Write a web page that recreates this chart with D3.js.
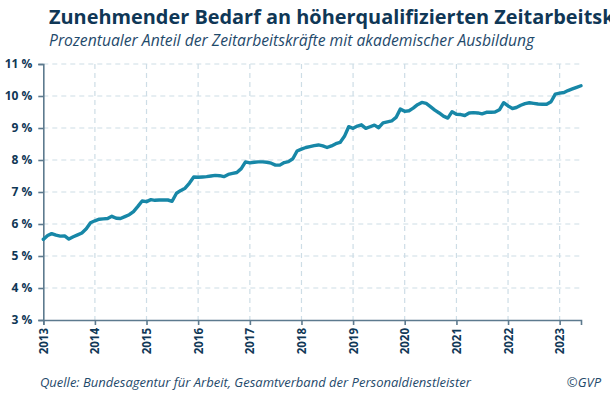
<!DOCTYPE html>
<html><head><meta charset="utf-8">
<script src="https://cdn.jsdelivr.net/npm/d3@7"></script>
<style>
html,body{margin:0;padding:0;background:#fff;overflow:hidden;}
text{font-family:"Open Sans",sans-serif;}
</style></head>
<body>
<svg id="chart" width="610" height="401"></svg>
<script>
const title = "Zunehmender Bedarf an höherqualifizierten Zeitarbeitskräften";
const subtitle = "Prozentualer Anteil der Zeitarbeitskräfte mit akademischer Ausbildung";
const source = "Quelle: Bundesagentur für Arbeit, Gesamtverband der Personaldienstleister";
const credit = "©GVP";
const startYear = 2013;
const startMonth = 0;
// Monthly share (%) from Jan 2013 to Jun 2023
const values = [
  5.52,5.64,5.70,5.65,5.62,5.63,5.53,5.60,5.66,5.72,5.85,6.04,
  6.10,6.15,6.16,6.17,6.24,6.18,6.17,6.23,6.29,6.39,6.55,6.72,
  6.70,6.76,6.74,6.75,6.75,6.75,6.71,6.96,7.05,7.12,7.28,7.47,
  7.46,7.47,7.48,7.50,7.52,7.51,7.48,7.55,7.58,7.61,7.73,7.94,
  7.91,7.93,7.94,7.94,7.93,7.90,7.84,7.84,7.92,7.95,8.04,8.28,
  8.34,8.39,8.42,8.45,8.47,8.44,8.39,8.44,8.51,8.55,8.74,9.04,
  8.99,9.06,9.10,8.99,9.04,9.09,9.01,9.16,9.19,9.22,9.33,9.59,
  9.52,9.54,9.62,9.73,9.80,9.77,9.67,9.56,9.47,9.37,9.31,9.51,
  9.43,9.42,9.39,9.47,9.48,9.47,9.44,9.49,9.49,9.50,9.57,9.79,
  9.69,9.61,9.64,9.71,9.76,9.79,9.77,9.75,9.74,9.74,9.82,10.06,
  10.09,10.11,10.17,10.22,10.27,10.32
];
const yTicks = [3,4,5,6,7,8,9,10,11];
const xTickYears = [2013,2014,2015,2016,2017,2018,2019,2020,2021,2022,2023];

const data = values.map((v,i)=>({date:new Date(startYear, startMonth+i, 1), value:v}));

const svg = d3.select("#chart");
const mLeft = 43.3, mRight = 581, mTop = 64, mBottom = 320;

const x = d3.scaleTime().domain(d3.extent(data, d=>d.date)).range([mLeft, mRight]);
const y = d3.scaleLinear().domain([3, 11]).range([mBottom, mTop]);

const navy = "#0f3756";
const gridColor = "#cddde6";
const axisColor = "#5d7a8e";

// title
svg.append("text").attr("x",49).attr("y",24).attr("font-size",19.9).attr("font-weight",700)
  .attr("fill",navy).text(title);
svg.append("text").attr("x",49).attr("y",45.5).attr("font-size",15.7).attr("font-style","italic")
  .attr("fill","#1f4a6b").text(subtitle);

// grid
const g = svg.append("g");
g.selectAll("line.hg").data(yTicks.slice(1)).join("line")
  .attr("x1",mLeft).attr("x2",mRight).attr("y1",d=>y(d)).attr("y2",d=>y(d))
  .attr("stroke",gridColor).attr("stroke-width",1.2).attr("stroke-dasharray","5,4");
g.selectAll("line.vg").data(xTickYears.slice(1)).join("line")
  .attr("x1",d=>x(new Date(d,0,1))).attr("x2",d=>x(new Date(d,0,1)))
  .attr("y1",mTop).attr("y2",mBottom)
  .attr("stroke",gridColor).attr("stroke-width",1.2).attr("stroke-dasharray","5,4");

// y axis
const yAxis = svg.append("g").attr("transform",`translate(${mLeft},0)`)
  .call(d3.axisLeft(y).tickValues(yTicks).tickSize(5).tickPadding(6).tickFormat(d=>d+" %"));
yAxis.select(".domain").attr("stroke",axisColor).attr("stroke-width",1.6);
yAxis.selectAll(".tick line").attr("stroke",axisColor).attr("stroke-width",1.6);
yAxis.selectAll(".tick text").attr("font-family","Open Sans").attr("font-size",12)
  .attr("font-weight",700).attr("fill",navy);

// x axis
const xAxis = svg.append("g").attr("transform",`translate(0,${mBottom})`)
  .call(d3.axisBottom(x).tickValues(xTickYears.map(yr=>new Date(yr,0,1)))
    .tickSize(5).tickFormat(d3.timeFormat("%Y")));
xAxis.select(".domain").attr("stroke",axisColor).attr("stroke-width",1.6);
xAxis.selectAll(".tick line").attr("stroke",axisColor).attr("stroke-width",1.6);
xAxis.selectAll(".tick text").attr("font-family","Open Sans").attr("font-size",11.5)
  .attr("font-weight",700).attr("fill",navy)
  .attr("transform","rotate(-90)").attr("text-anchor","end")
  .attr("x",-8).attr("y",0).attr("dy","0.35em");

// line
svg.append("path").datum(data)
  .attr("fill","none").attr("stroke","#1787a7").attr("stroke-width",3.4)
  .attr("stroke-linejoin","round").attr("stroke-linecap","round")
  .attr("d", d3.line().x(d=>x(d.date)).y(d=>y(d.value)));

// footer
svg.append("text").attr("x",40).attr("y",387).attr("font-size",13).attr("font-style","italic")
  .attr("fill","#1f4a6b").text(source);
svg.append("text").attr("x",601).attr("y",387).attr("text-anchor","end").attr("font-size",13)
  .attr("font-style","italic").attr("fill","#1f4a6b").text(credit);
</script>
</body></html>
